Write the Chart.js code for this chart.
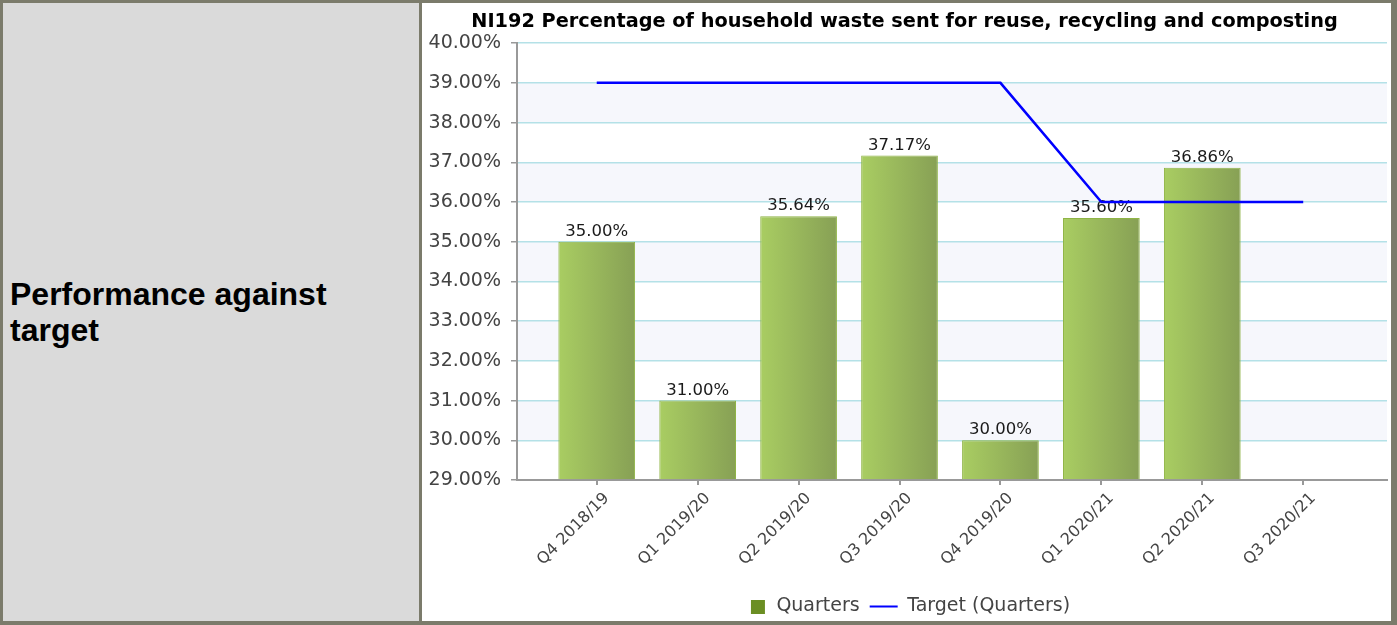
<!DOCTYPE html>
<html>
<head>
<meta charset="utf-8">
<title>NI192 Performance against target</title>
<script src="https://cdn.jsdelivr.net/npm/chart.js@4.4.1/dist/chart.umd.min.js"></script>
<style>
  html, body { margin: 0; padding: 0; background: #fff; }
  #frame {
    position: absolute; left: 0; top: 0;
    width: 1397px; height: 625px; box-sizing: border-box;
    border: 3px solid #7b7b6b; background: #7b7b6b;
  }
  #rowLabel {
    position: absolute; left: 0; top: 0; width: 416px; height: 618px;
    background: #dadada; box-sizing: border-box; padding-left: 7px;
    display: flex; align-items: center;
    font: bold 32px "Liberation Sans", Arial, sans-serif; line-height: 36px; color: #000;
  }
  #plot { position: absolute; left: 419px; top: 0; width: 969px; height: 618px; background: #fff; }
</style>
</head>
<body>
<div id="frame">
  <div id="rowLabel"><div>Performance against<br>target</div></div>
  <div id="plot"><canvas id="chart" width="969" height="618"></canvas></div>
</div>
<script>
// Quarterly recycling performance and the target line
const chartTitle = 'NI192 Percentage of household waste sent for reuse, recycling and composting';
const quarterLabels = ['Q4 2018/19', 'Q1 2019/20', 'Q2 2019/20', 'Q3 2019/20', 'Q4 2019/20', 'Q1 2020/21', 'Q2 2020/21', 'Q3 2020/21'];
const quarterValues = [35.00, 31.00, 35.64, 37.17, 30.00, 35.60, 36.86, null];
const targetValues  = [39, 39, 39, 39, 39, 36, 36, 36];
const yTickMin = 29;
const yTickMax = 40;

const FONT = '"DejaVu Sans", Verdana, sans-serif';

// Horizontal green gradient across each bar
function barGradient(context) {
  const chart = context.chart;
  const x = chart.scales.x;
  if (!x || context.type !== 'data') return '#9cba5c';
  const cx = x.getPixelForValue(context.dataIndex);
  const step = x.getPixelForValue(1) - x.getPixelForValue(0);
  if (!isFinite(cx) || !isFinite(step) || step <= 0) return '#9cba5c';
  const half = step * 0.38;
  const g = chart.ctx.createLinearGradient(cx - half, 0, cx + half, 0);
  g.addColorStop(0, '#a9cd62');
  g.addColorStop(1, '#87a055');
  return g;
}

// Legend swatch for the bar series: a small olive square
const squareIcon = document.createElement('canvas');
squareIcon.width = 28; squareIcon.height = 14;
(function () {
  const c = squareIcon.getContext('2d');
  c.fillStyle = '#6b8e23';
  c.fillRect(12, 0, 14, 14);
})();

// Alternating pale bands between the horizontal grid lines
const bandsPlugin = {
  id: 'bands',
  beforeDraw(chart) {
    const { ctx, chartArea: a, scales: { y } } = chart;
    const ticks = y.ticks;
    ctx.save();
    ctx.fillStyle = '#f6f7fc';
    for (let i = 1; i < ticks.length - 1; i += 2) {
      const bottom = y.getPixelForValue(ticks[i].value);
      const top = y.getPixelForValue(ticks[i + 1].value);
      ctx.fillRect(a.left, top, a.right - a.left, bottom - top);
    }
    ctx.restore();
  }
};

// Value labels above the bars (drawn before the target line)
const barLabelsPlugin = {
  id: 'barLabels',
  afterDatasetDraw(chart, args) {
    if (args.index !== 0) return;
    const { ctx } = chart;
    const meta = chart.getDatasetMeta(0);
    ctx.save();
    ctx.font = '16.5px ' + FONT;
    ctx.fillStyle = '#1a1a1a';
    ctx.textAlign = 'center';
    ctx.textBaseline = 'alphabetic';
    meta.data.forEach((bar, i) => {
      const v = quarterValues[i];
      if (v === null || v === undefined) return;
      ctx.fillText(v.toFixed(2) + '%', bar.x, bar.y - 6);
    });
    ctx.restore();
  }
};

new Chart(document.getElementById('chart'), {
  type: 'bar',
  data: {
    datasets: [
      {
        label: 'Quarters',
        data: quarterValues.map((v, i) => ({ x: i, y: v })),
        backgroundColor: barGradient,
        borderColor: '#8fb445',
        borderWidth: 1,
        base: yTickMin,
        barPercentage: 0.95,
        categoryPercentage: 0.8,
        order: 1
      },
      {
        type: 'line',
        label: 'Target (Quarters)',
        data: targetValues.map((v, i) => ({ x: i, y: v })),
        borderColor: '#0000ff',
        backgroundColor: '#0000ff',
        borderWidth: 2.5,
        pointRadius: 0,
        tension: 0,
        fill: false,
        order: 0
      }
    ]
  },
  options: {
    responsive: false,
    animation: false,
    layout: { padding: { left: 0, right: 4, top: 0, bottom: -5 } },
    plugins: {
      title: {
        display: true,
        text: chartTitle,
        color: '#000',
        font: { family: FONT, size: 19.3, weight: 'bold' },
        padding: { top: 7, bottom: 10 }
      },
      legend: {
        position: 'bottom',
        labels: {
          usePointStyle: true,
          pointStyleWidth: 28,
          boxHeight: 14,
          color: '#444',
          padding: 10,
          font: { family: FONT, size: 19 },
          generateLabels(chart) {
            const items = Chart.defaults.plugins.legend.labels.generateLabels(chart);
            items.sort((a, b) => a.datasetIndex - b.datasetIndex);
            items.forEach((item) => {
              if (item.datasetIndex === 0) {
                item.pointStyle = squareIcon;
              } else {
                item.pointStyle = 'line';
                item.strokeStyle = '#0000ff';
                item.lineWidth = 2;
              }
            });
            return items;
          }
        }
      },
      tooltip: { enabled: false }
    },
    scales: {
      x: {
        type: 'linear',
        min: -0.79,
        max: 7.83,
        offset: false,
        grid: { offset: false, drawOnChartArea: false, tickColor: '#999', tickLength: 5, lineWidth: 2 },
        border: { color: '#999', width: 2 },
        ticks: {
          stepSize: 1,
          includeBounds: false,
          autoSkip: false,
          minRotation: 45,
          maxRotation: 45,
          labelOffset: 10,
          color: '#444',
          padding: 4,
          font: { family: FONT, size: 16 },
          callback: (v) => (quarterLabels[v] !== undefined ? quarterLabels[v] : '')
        },
        afterFit: (s) => { s.height = 107; }
      },
      y: {
        min: yTickMin,
        max: yTickMax,
        grid: { color: '#b4e1e7', lineWidth: 1.5, tickColor: '#999', tickLength: 6 },
        border: { color: '#999', width: 2 },
        ticks: {
          stepSize: 1,
          color: '#444',
          padding: 10,
          font: { family: FONT, size: 19 },
          callback: (v) => v.toFixed(2) + '%'
        },
        afterFit: (s) => { s.width = 95; }
      }
    }
  },
  plugins: [bandsPlugin, barLabelsPlugin]
});
</script>
</body>
</html>
